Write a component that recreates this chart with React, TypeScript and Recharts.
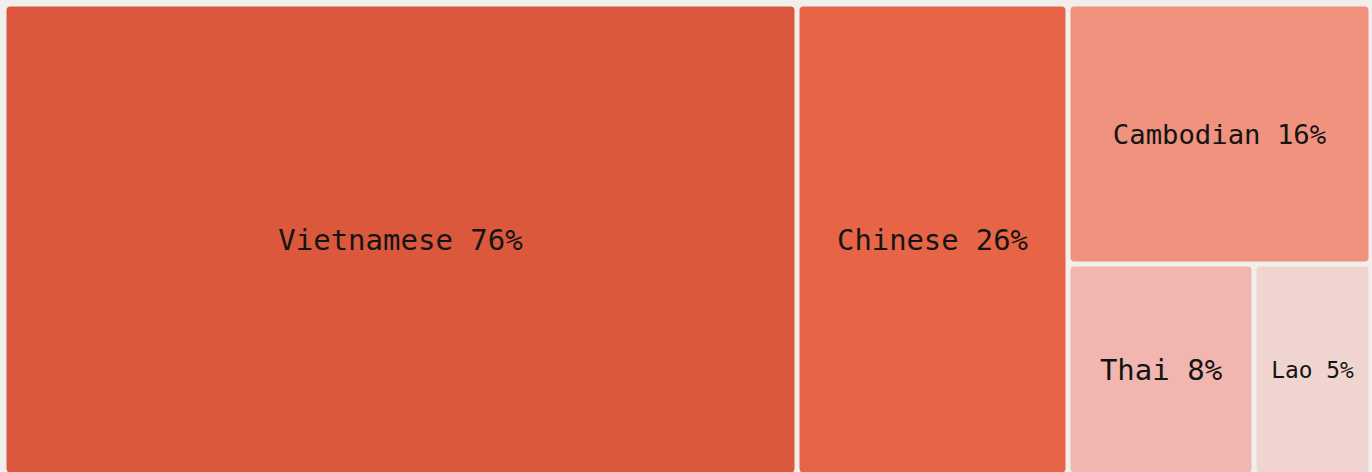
import React from 'react';
import { Treemap } from 'recharts';

const NAMES = ['Vietnamese', 'Chinese', 'Cambodian', 'Thai', 'Lao'];
const VALUES = [76, 26, 16, 8, 5];
const COLORS = ['#dc583c', '#e76447', '#f0927e', '#f1b6af', '#efd4cf'];

const data = NAMES.map((name, i) => ({ name, value: VALUES[i], idx: i }));

const Cell = (props: any) => {
  const { x, y, width, height, depth, name, value, idx } = props;
  if (depth !== 1) return null;
  const inset = 2.5;
  const label = `${name} ${value}%`;
  const fs = Math.min(29, (width * 1.17) / label.length);
  return (
    <g>
      <rect
        x={x + inset}
        y={y + inset}
        width={Math.max(0, width - inset * 2)}
        height={Math.max(0, height - inset * 2)}
        rx={4}
        ry={4}
        fill={COLORS[idx % COLORS.length]}
        stroke="none"
      />
      <text
        x={x + width / 2}
        y={y + height / 2}
        textAnchor="middle"
        dominantBaseline="central"
        fontFamily="'DejaVu Sans Mono', monospace"
        fontSize={fs}
        fill="#141414"
        stroke="none"
      >
        {label}
      </text>
    </g>
  );
};

export default function App() {
  return (
    <div style={{ position: 'fixed', left: 0, top: 0, width: 1372, height: 472, background: '#f2eeeb', overflow: 'hidden' }}>
      <div style={{ position: 'absolute', left: 3.5, top: 3.5 }}>
        <Treemap
          width={1367}
          height={471}
          data={data}
          dataKey="value"
          nameKey="name"
          aspectRatio={1}
          isAnimationActive={false}
          content={<Cell />}
        />
      </div>
    </div>
  );
}
